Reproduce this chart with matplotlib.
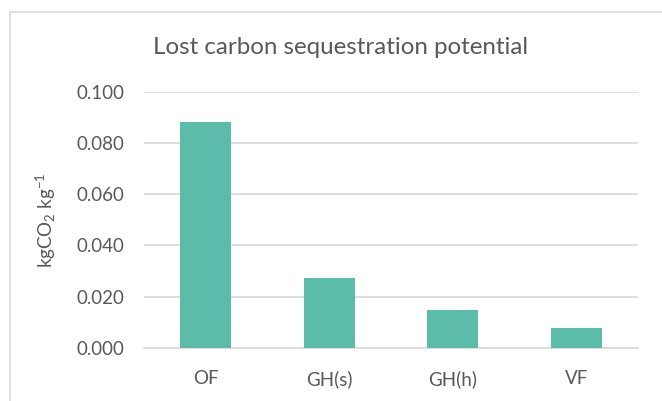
import matplotlib
matplotlib.use("Agg")
import matplotlib.pyplot as plt
from matplotlib.patches import Rectangle

# data
categories = ["OF", "GH(s)", "GH(h)", "VF"]
values = [0.0882, 0.0272, 0.0147, 0.0078]
yticks = [0.0, 0.02, 0.04, 0.06, 0.08, 0.10]

plt.rcParams['font.family'] = ['Lato', 'DejaVu Sans']
plt.rcParams['mathtext.fontset'] = 'custom'
plt.rcParams['mathtext.rm'] = 'Lato'
plt.rcParams['mathtext.it'] = 'Lato'
plt.rcParams['mathtext.default'] = 'regular'
textColor = "#595959"
barColor = "#5cbcaa"
gridColor = "#d9d9d9"

fig = plt.figure(figsize=(6.62, 4.01), dpi=100)

# outer chart frame (runs off the right and bottom edges)
fig.patches.append(Rectangle((10/662, -0.05), 1.0, 1 - 12/401 + 0.05,
                             transform=fig.transFigure, fill=False,
                             edgecolor=gridColor, linewidth=1.2))

ax = fig.add_axes([144/662, 1 - 347.7/401, (638 - 144)/662, (347.7 - 91.7)/401])
ax.bar(range(len(categories)), values, width=0.41, color=barColor, zorder=3)

ax.set_xlim(-0.5, len(categories) - 0.5)
ax.set_ylim(0, 0.1)
ax.set_yticks(yticks)
ax.set_yticklabels([f"{v:.3f}" for v in yticks])
ax.set_xticks(range(len(categories)))
ax.set_xticklabels(categories)
ax.yaxis.grid(True, color=gridColor, linewidth=1.2, zorder=0)
ax.tick_params(axis='both', length=0, labelsize=13.5, labelcolor=textColor)
ax.tick_params(axis='y', pad=14)
ax.tick_params(axis='x', pad=16)
for side in ["top", "right", "left"]:
    ax.spines[side].set_visible(False)
ax.spines["bottom"].set_color(gridColor)
ax.spines["bottom"].set_linewidth(1.2)

ax.set_ylabel("kgCO$_{2}$ kg$^{-1}$", fontsize=13.5, color=textColor)
ax.yaxis.set_label_coords(-0.174, 0.5)

fig.text(340.5/662, 1 - 48/401, "Lost carbon sequestration potential",
         ha="center", va="center", fontsize=17.4, color=textColor)

fig.savefig("out.png", dpi=100)
